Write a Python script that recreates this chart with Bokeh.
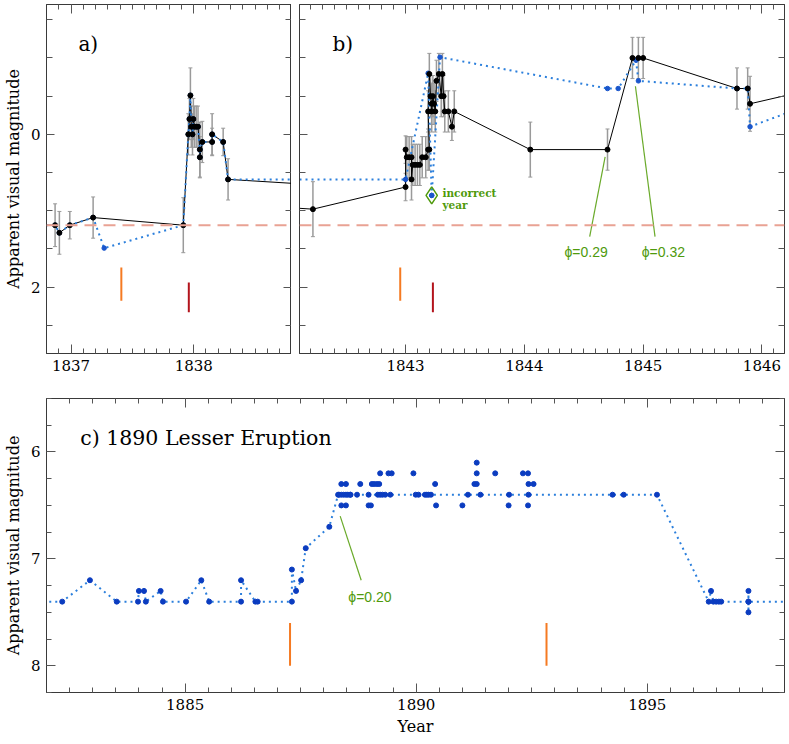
from bokeh.plotting import figure
from bokeh.models import (Range1d, FixedTicker, LinearAxis, Span, Whisker,
                          ColumnDataSource, TeeHead, CustomJSTickFormatter)
from bokeh.layouts import column, row
from bokeh.embed import file_html
from bokeh.resources import INLINE
from bokeh.core.properties import value

# ---------------- data ----------------
# Great Eruption era, adopted light curve (black, with error bars)
great_year = [1836.70, 1836.87, 1836.905, 1836.99, 1837.18, 1837.915,
              1837.956, 1837.965, 1837.973, 1837.98, 1837.99, 1837.997, 1838.005,
              1838.02, 1838.035, 1838.05, 1838.05, 1838.07, 1838.15, 1838.15,
              1838.24, 1838.28,
              1842.22, 1843.00, 1843.00, 1843.01, 1843.03, 1843.05, 1843.05,
              1843.06, 1843.08, 1843.10, 1843.12, 1843.14, 1843.17, 1843.19,
              1843.20, 1843.19, 1843.20, 1843.21, 1843.22, 1843.22, 1843.23,
              1843.24, 1843.25, 1843.26, 1843.28, 1843.30, 1843.31, 1843.32,
              1843.33, 1843.36, 1843.39, 1843.41, 1844.05, 1844.70, 1844.91,
              1844.96, 1845.00, 1845.79, 1845.88, 1845.90, 1846.40]
great_mag = [1.19, 1.19, 1.29, 1.19, 1.09, 1.19,
             0.00, -0.20, -0.51, -0.10, 0.00, -0.20, -0.10,
             -0.10, -0.10, 0.20, 0.30, 0.10, 0.10, 0.00,
             0.10, 0.59,
             0.98, 0.69, 0.20, 0.30, 0.30, 0.30, 0.59,
             0.40, 0.40, 0.40, 0.40, 0.30, 0.30, 0.20,
             0.20, -0.30, -0.79, -0.50, -0.40, -0.30, -0.50,
             -0.40, -0.30, -0.70, -0.79, -0.50, -0.79, -0.50,
             -0.30, -0.30, -0.10, -0.30, 0.20, 0.20, -1.00,
             -1.00, -1.00, -0.60, -0.60, -0.40, -0.58]
great_err = [0.27, 0.28, 0.28, 0.18, 0.27, 0.36,
             0.27, 0.27, 0.36, 0.27, 0.27, 0.27, 0.27,
             0.27, 0.27, 0.36, 0.27, 0.27, 0.18, 0.27,
             0.18, 0.27,
             0.36, 0.18, 0.18, 0.27, 0.27, 0.27, 0.27,
             0.27, 0.27, 0.27, 0.27, 0.27, 0.27, 0.27,
             0.27, 0.27, 0.27, 0.27, 0.27, 0.27, 0.27,
             0.27, 0.27, 0.27, 0.27, 0.27, 0.27, 0.27,
             0.27, 0.27, 0.18, 0.27, 0.36, 0.27, 0.27,
             0.27, 0.27, 0.27, 0.27, 0.36, 0.27]

# Alternative (earlier) light curve, blue dotted
alt_year = [1836.70, 1836.87, 1836.905, 1836.99, 1837.18, 1837.27, 1837.915,
            1837.956, 1837.965, 1837.973, 1837.98, 1837.99, 1837.997, 1838.005,
            1838.02, 1838.035, 1838.05, 1838.05, 1838.07, 1838.15, 1838.15,
            1838.24, 1838.28, 1843.00, 1843.19, 1843.22, 1843.29, 1844.70,
            1844.79, 1844.94, 1844.96, 1845.79, 1845.88, 1845.90, 1846.40]
alt_mag = [1.19, 1.19, 1.29, 1.19, 1.09, 1.49, 1.19,
           0.00, -0.20, -0.51, -0.10, 0.00, -0.20, -0.10,
           -0.10, -0.10, 0.20, 0.30, 0.10, 0.10, 0.00,
           0.10, 0.59, 0.59, -0.80, 0.80, -1.01, -0.60,
           -0.60, -0.97, -0.70, -0.60, -0.60, -0.10, -0.39]

# 1890 Lesser Eruption: connected estimate and additional observations
lesser_line_year = [1881.80, 1882.34, 1882.94, 1883.52, 1883.98, 1884.00, 1884.11,
                    1884.15, 1884.47, 1884.52, 1885.02, 1885.35, 1885.52, 1886.21,
                    1886.21, 1886.52, 1886.57, 1887.31, 1887.31, 1887.40, 1887.51,
                    1887.61, 1888.12, 1888.31, 1888.33, 1888.38, 1888.43, 1888.48,
                    1888.52, 1888.57, 1888.58, 1888.72, 1888.97, 1889.17, 1889.22,
                    1889.27, 1889.33, 1889.44, 1889.99, 1890.05, 1890.19, 1890.23,
                    1890.27, 1890.32, 1891.12, 1891.39, 1892.01, 1892.43, 1894.25,
                    1894.49, 1895.21, 1896.33, 1896.38, 1896.43, 1896.49, 1896.55,
                    1896.60, 1897.19, 1897.19, 1897.19, 1897.19, 1898.20]
lesser_line_mag = [7.4, 7.4, 7.2, 7.4, 7.4, 7.3, 7.3,
                   7.4, 7.3, 7.4, 7.4, 7.2, 7.4, 7.4,
                   7.2, 7.4, 7.4, 7.4, 7.1, 7.3, 7.2,
                   6.9, 6.7, 6.4, 6.4, 6.4, 6.4, 6.4,
                   6.4, 6.4, 6.4, 6.4, 6.4, 6.4, 6.4,
                   6.4, 6.4, 6.4, 6.4, 6.4, 6.4, 6.4,
                   6.4, 6.4, 6.4, 6.4, 6.4, 6.4, 6.4,
                   6.4, 6.4, 7.4, 7.3, 7.4, 7.4, 7.4,
                   7.4, 7.4, 7.3, 7.5, 7.4, 7.4]
lesser_extra_year = [1888.38, 1888.48, 1888.79, 1889.04, 1889.09, 1889.15, 1889.20,
                     1890.41, 1891.26, 1891.31, 1892.43, 1892.54,
                     1888.38, 1888.48, 1888.97, 1889.02, 1890.43, 1891.00, 1892.00,
                     1892.42,
                     1889.22, 1889.40, 1889.47, 1889.94, 1891.31, 1891.71, 1892.31,
                     1892.42, 1891.31]
lesser_extra_mag = [6.3, 6.3, 6.3, 6.3, 6.3, 6.3, 6.3,
                    6.3, 6.3, 6.3, 6.3, 6.3,
                    6.5, 6.5, 6.5, 6.5, 6.5, 6.5, 6.5,
                    6.5,
                    6.2, 6.2, 6.2, 6.2, 6.2, 6.2, 6.2,
                    6.2, 6.1]

baseline_mag = 1.19
orange_marks_ab = [1837.41, 1842.955]
red_marks_ab = [1837.96, 1843.23]
orange_marks_c = [1887.27, 1892.82]
incorrect_pt = [1843.22, 0.80]

# tick labels / ticks
ticks_a_x = [1837, 1838]
ticks_b_x = [1843, 1844, 1845, 1846]
ticks_c_x = [1885, 1890, 1895]
ticks_ab_y = [0, 2]
ticks_c_y = [6, 7, 8]

# ---------------- styling ----------------
SERIF = "DejaVu Serif"
AXC = "#3a3a3a"
TICKC = "#555555"
BLUE_LINE = "#2b7fdc"
BLUE_DOT = "#1a56cc"
C_DOT = "#0b3cc0"
GREEN = "#4f9a0c"
ORANGE = "#f57a22"
DARKRED = "#b3141c"
ERRC = "#9a9a9a"


def minors(a, b, step):
    n = int(round((b - a) / step))
    return [round(a + i * step, 4) for i in range(n + 1)]


def make_fig(xr, yr, fw, fh, bl, br, bt, bb):
    p = figure(x_range=Range1d(*xr), y_range=Range1d(*yr),
               frame_width=fw, frame_height=fh,
               min_border_left=bl, min_border_right=br,
               min_border_top=bt, min_border_bottom=bb,
               output_backend="svg", toolbar_location=None)
    p.grid.grid_line_color = None
    p.outline_line_color = AXC
    p.outline_line_width = 1
    p.background_fill_color = "white"
    p.border_fill_color = "white"
    p.add_layout(LinearAxis(), "above")
    p.add_layout(LinearAxis(), "right")
    return p


def style_axis(ax, ticks, mins, labels, major_len=9, minor_len=5):
    ax.ticker = FixedTicker(ticks=ticks, minor_ticks=mins)
    ax.major_tick_in = major_len
    ax.major_tick_out = 0
    ax.minor_tick_in = minor_len
    ax.minor_tick_out = 0
    ax.major_tick_line_color = TICKC
    ax.minor_tick_line_color = TICKC
    ax.axis_line_color = AXC
    if labels:
        ax.major_label_text_font = SERIF
        ax.major_label_text_font_size = "15px"
        ax.major_label_text_color = "black"
        ax.major_label_standoff = 6
    else:
        ax.formatter = CustomJSTickFormatter(code="return ''")
        ax.major_label_text_font_size = "0px"
        ax.major_label_standoff = 0


def set_ylabel(ax, text):
    ax.axis_label = text
    ax.axis_label_text_font = SERIF
    ax.axis_label_text_font_style = "normal"
    ax.axis_label_text_font_size = "16px"
    ax.axis_label_text_color = "black"
    ax.axis_label_standoff = 5


def draw_great(p):
    p.add_layout(Span(location=baseline_mag, dimension="width", line_color="#e9a294",
                      line_width=2, line_dash="12 7"))
    lo = [m - e for m, e in zip(great_mag, great_err)]
    hi = [m + e for m, e in zip(great_mag, great_err)]
    src = ColumnDataSource(dict(x=great_year, lo=lo, hi=hi))
    p.add_layout(Whisker(base="x", lower="lo", upper="hi", source=src, dimension="height",
                         line_color=ERRC, line_width=1.5,
                         upper_head=TeeHead(size=4, line_color=ERRC, line_width=1),
                         lower_head=TeeHead(size=4, line_color=ERRC, line_width=1)))
    p.line(great_year, great_mag, line_color="black", line_width=1)
    p.line(alt_year, alt_mag, line_color=BLUE_LINE, line_width=2, line_dash="2 4")
    p.scatter(alt_year, alt_mag, size=4.5, color=BLUE_DOT)
    p.scatter(great_year, great_mag, size=5, color="black")
    p.segment(x0=orange_marks_ab, y0=[1.745] * 2, x1=orange_marks_ab, y1=[2.18] * 2,
              line_color=ORANGE, line_width=2)
    p.segment(x0=red_marks_ab, y0=[1.94] * 2, x1=red_marks_ab, y1=[2.33] * 2,
              line_color=DARKRED, line_width=2)


# ---------------- panel a ----------------
ya = (2.87, -1.70)
pa = make_fig((1836.80, 1838.797), ya, 245, 349, 39, 0, 4, 29)
for ax in pa.xaxis:
    style_axis(ax, ticks_a_x, minors(1836.8, 1838.8, 0.1), ax in pa.below)
for ax in pa.yaxis:
    style_axis(ax, ticks_ab_y, minors(-1.5, 2.5, 0.5), ax in pa.left, 8, 6)
set_ylabel(pa.left[0], "Apparent visual magnitude")
draw_great(pa)
pa.text(x=[1837.06], y=[-1.18], text=["a)"], text_font=value(SERIF), text_font_size="20px",
        text_baseline="middle", text_align="left", text_color="black")

# ---------------- panel b ----------------
pb = make_fig((1842.107, 1846.19), ya, 485, 349, 8, 2, 4, 29)
for ax in pb.xaxis:
    style_axis(ax, ticks_b_x, minors(1842.1, 1846.2, 0.1), ax in pb.below)
for ax in pb.yaxis:
    style_axis(ax, ticks_ab_y, minors(-1.5, 2.5, 0.5), False, 8, 6)
draw_great(pb)
pb.scatter([incorrect_pt[0]], [incorrect_pt[1]], marker="diamond", size=17,
           fill_color=None, line_color=GREEN, line_width=1.5)
pb.scatter([incorrect_pt[0]], [incorrect_pt[1]], size=4.5, color=BLUE_DOT)
pb.text(x=[1843.31, 1843.31], y=[0.765, 0.92], text=["incorrect", "year"],
        text_font=value(SERIF), text_font_style="bold", text_font_size="10.5px",
        text_baseline="middle", text_align="left", text_color=GREEN)
pb.segment(x0=[1844.68, 1844.935], y0=[0.295, -0.63], x1=[1844.55, 1845.10], y1=[1.34, 1.34],
           line_color="#6aaa2a", line_width=1.2)
pb.text(x=[1844.52, 1845.17], y=[1.54, 1.54], text=["ϕ=0.29", "ϕ=0.32"],
        text_font=value("Liberation Sans"), text_font_size="14px",
        text_baseline="middle", text_align="center", text_color=GREEN)
pb.text(x=[1842.385], y=[-1.18], text=["b)"], text_font=value(SERIF), text_font_size="20px",
        text_baseline="middle", text_align="left", text_color="black")

# ---------------- panel c ----------------
pc = make_fig((1882.0, 1897.97), (8.25, 5.5), 738, 294, 39, 2, 16, 44)
for ax in pc.xaxis:
    style_axis(ax, ticks_c_x, minors(1882.0, 1898.0, 0.5), ax in pc.below)
for ax in pc.yaxis:
    style_axis(ax, ticks_c_y, minors(5.5, 8.25, 0.25), ax in pc.left)
set_ylabel(pc.left[0], "Apparent visual magnitude")
xl = pc.below[0]
xl.axis_label = "Year"
xl.axis_label_text_font = SERIF
xl.axis_label_text_font_style = "normal"
xl.axis_label_text_font_size = "16px"
xl.axis_label_text_color = "black"
xl.axis_label_standoff = 4

pc.line(lesser_line_year, lesser_line_mag, line_color=BLUE_LINE, line_width=2, line_dash="2 4")
pc.scatter(lesser_line_year, lesser_line_mag, size=5, color=C_DOT)
pc.scatter(lesser_extra_year, lesser_extra_mag, size=5, color=C_DOT)
pc.segment(x0=orange_marks_c, y0=[7.6] * 2, x1=orange_marks_c, y1=[8.0] * 2,
           line_color=ORANGE, line_width=2)
pc.segment(x0=[1888.355], y0=[6.60], x1=[1888.81], y1=[7.20], line_color="#6aaa2a", line_width=1.2)
pc.text(x=[1889.0], y=[7.36], text=["ϕ=0.20"], text_font=value("Liberation Sans"),
        text_font_size="14px", text_baseline="middle", text_align="center", text_color=GREEN)
pc.text(x=[1882.73], y=[5.866], text=["c) 1890 Lesser Eruption"], text_font=value(SERIF),
        text_font_size="20.5px", text_baseline="middle", text_align="left", text_color="black")

layout = column(row(pa, pb), pc)
open("out.html", "w").write(file_html(layout, INLINE))
